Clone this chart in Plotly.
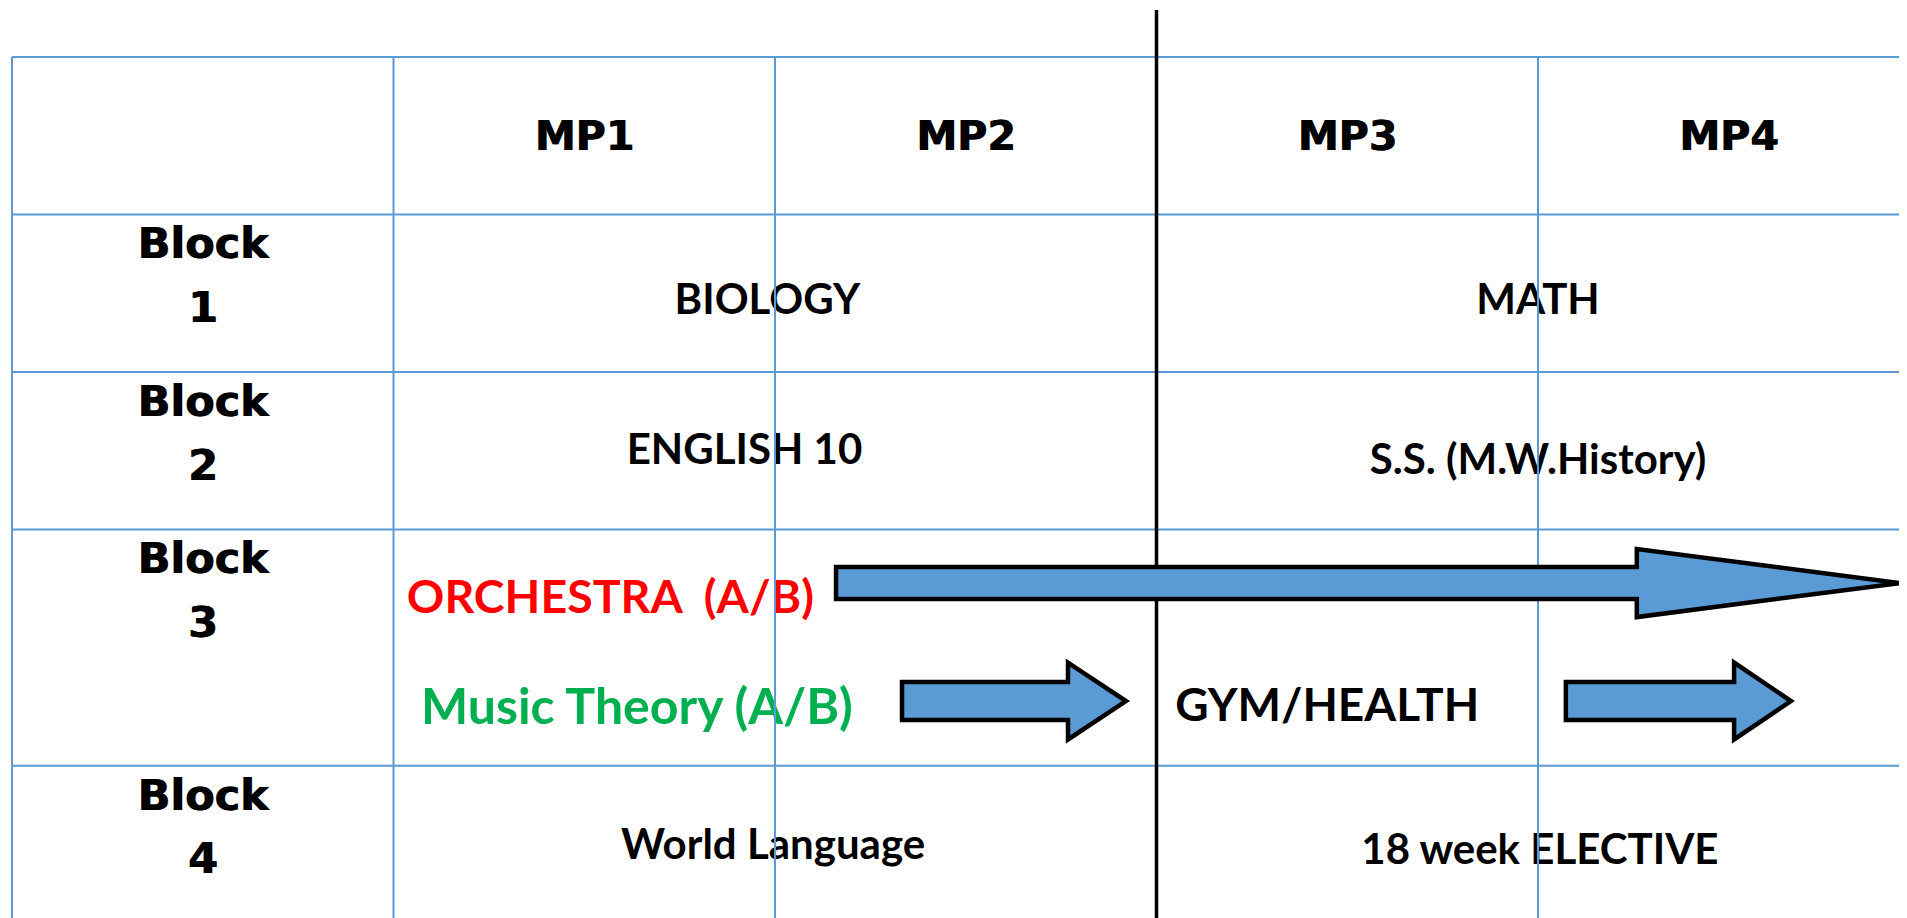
import plotly.graph_objects as go

# ---------------- data ----------------
periods = ["MP1", "MP2", "MP3", "MP4"]
block_word = "Block"
block_numbers = ["1", "2", "3", "4"]
first_half_courses = ["BIOLOGY", "ENGLISH 10", "", "World Language"]
second_half_courses = ["MATH", "S.S. (M.W.History)", "", "18 week ELECTIVE"]
block3_labels = ["ORCHESTRA\u00a0 (A/B)", "Music Theory (A/B)", "GYM/HEALTH"]
block3_colors = ["#FF0000", "#00B050", "#000000"]

# ---------------- layout geometry (grid units) ----------------
# x: one unit = one column (label column is 0..1, MP1..MP4 are 1..5)
# y: one unit = one standard row height (header 0..1, blocks below)
PAGE_MARGIN = 8                      # default body margin of the html page
W, H = 1907 - PAGE_MARGIN, 918 - PAGE_MARGIN
COL_PX, ROW_PX = 381.5, 157.5
X0_PX, Y0_PX = 12 - PAGE_MARGIN, 57 - PAGE_MARGIN
row_edges = [0, 1, 2, 3, 4.5, 5.5]
n_cols = 5

x_range = [-X0_PX / COL_PX, (W - X0_PX) / COL_PX]
y_range = [(H - Y0_PX) / ROW_PX, -Y0_PX / ROW_PX]

GRID = "#5B9BD5"
ARROW_FILL = "#5B9BD5"

fig = go.Figure()
shapes = []

# grid lines
for c in range(n_cols + 1):
    shapes.append(dict(type="line", xref="x", yref="y", x0=c, x1=c,
                       y0=row_edges[0], y1=y_range[0],
                       line=dict(color=GRID, width=2)))
for r in row_edges:
    shapes.append(dict(type="line", xref="x", yref="y", x0=0, x1=x_range[1],
                       y0=r, y1=r, line=dict(color=GRID, width=2)))

# semester divider (black line)
shapes.append(dict(type="line", xref="x", yref="y", x0=3, x1=3,
                   y0=-0.298, y1=y_range[0], line=dict(color="black", width=3.5)))

# arrows: (start, head_base, tip, center_y, body_half, head_half)
arrows = [
    (2.160, 4.259, 4.949, 3.340, 0.102, 0.216),
    (2.333, 2.768, 2.920, 4.089, 0.121, 0.244),
    (4.073, 4.514, 4.663, 4.089, 0.121, 0.244),
]
for x0, xb, xt, yc, bh, hh in arrows:
    pts = [(x0, yc - bh), (xb, yc - bh), (xb, yc - hh), (xt, yc),
           (xb, yc + hh), (xb, yc + bh), (x0, yc + bh)]
    path = "M " + " L ".join(f"{px},{py}" for px, py in pts) + " Z"
    shapes.append(dict(type="path", xref="x", yref="y", path=path,
                       fillcolor=ARROW_FILL, line=dict(color="black", width=4.5)))

# ---------------- text ----------------
HEAD_FONT = "DejaVu Sans"
BODY_FONT = "Lato"
HEAVY = "1px 0px 0px black"

# header
fig.add_trace(go.Scatter(
    x=[i + 1.5 for i in range(len(periods))], y=[0.525] * len(periods),
    mode="text", text=periods, textposition="middle center",
    textfont=dict(family=HEAD_FONT, size=41, color="black", weight="bold", shadow=HEAVY),
    hoverinfo="skip", showlegend=False))

# block labels
block_tops = row_edges[1:5]
fig.add_trace(go.Scatter(
    x=[0.5] * len(block_numbers), y=[t + 0.21 for t in block_tops],
    mode="text", text=[block_word] * len(block_numbers), textposition="middle center",
    textfont=dict(family=HEAD_FONT, size=43, color="black", weight="bold", shadow=HEAVY),
    hoverinfo="skip", showlegend=False))
fig.add_trace(go.Scatter(
    x=[0.5] * len(block_numbers), y=[t + 0.615 for t in block_tops],
    mode="text", text=block_numbers, textposition="middle center",
    textfont=dict(family=HEAD_FONT, size=43, color="black", weight="bold", shadow=HEAVY),
    hoverinfo="skip", showlegend=False))

# full-row courses
course_x1 = [1.98, 1.92, None, 1.995]
course_x2 = [4.0, 4.0, None, 4.005]
course_y1 = [1.565, 2.517, None, 5.025]
course_y2 = [1.565, 2.58, None, 5.055]
xs, ys, ts = [], [], []
for i in range(len(first_half_courses)):
    if first_half_courses[i]:
        xs += [course_x1[i], course_x2[i]]
        ys += [course_y1[i], course_y2[i]]
        ts += [first_half_courses[i], second_half_courses[i]]
fig.add_trace(go.Scatter(
    x=xs, y=ys, mode="text", text=ts, textposition="middle center",
    textfont=dict(family=BODY_FONT, size=42, color="black", weight="bold"),
    hoverinfo="skip", showlegend=False))

# block 3 content
b3_x = [1.035, 1.072, 3.049]
b3_y = [3.455, 4.155, 4.145]
b3_size = [46.5, 50, 46]
for i, lab in enumerate(block3_labels):
    fig.add_trace(go.Scatter(
        x=[b3_x[i]], y=[b3_y[i]], mode="text", text=[lab], textposition="middle right",
        textfont=dict(family=BODY_FONT, size=b3_size[i], color=block3_colors[i], weight="bold"),
        hoverinfo="skip", showlegend=False))

for s in shapes:
    s["layer"] = "above"

fig.update_layout(
    width=W, height=H, autosize=False,
    margin=dict(l=0, r=0, t=0, b=0, pad=0),
    paper_bgcolor="white", plot_bgcolor="white",
    xaxis=dict(range=x_range, visible=False, fixedrange=True),
    yaxis=dict(range=y_range, visible=False, fixedrange=True),
    shapes=shapes, showlegend=False,
)

fig.write_html("out.html", config={"displayModeBar": False})
